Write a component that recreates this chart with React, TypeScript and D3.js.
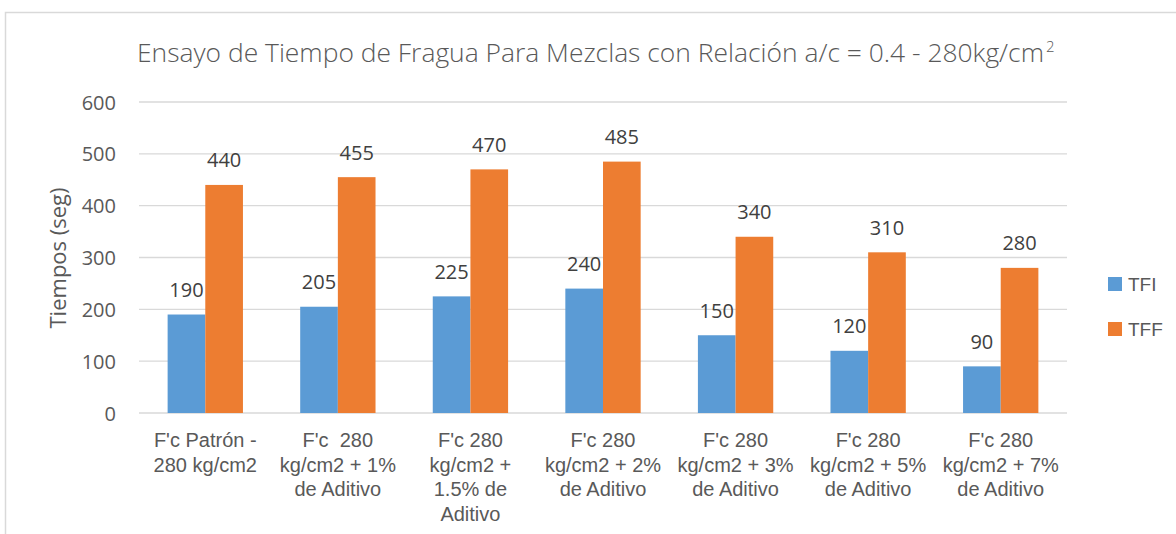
import React from "react";
import * as d3 from "d3";

const categories: string[][] = [
  ["F'c Patrón -", "280 kg/cm2"],
  ["F'c  280", "kg/cm2 + 1%", "de Aditivo"],
  ["F'c 280", "kg/cm2 +", "1.5% de", "Aditivo"],
  ["F'c 280", "kg/cm2 + 2%", "de Aditivo"],
  ["F'c 280", "kg/cm2 + 3%", "de Aditivo"],
  ["F'c 280", "kg/cm2 + 5%", "de Aditivo"],
  ["F'c 280", "kg/cm2 + 7%", "de Aditivo"],
];
const seriesNames = ["TFI", "TFF"];
const tfi = [190, 205, 225, 240, 150, 120, 90];
const tff = [440, 455, 470, 485, 340, 310, 280];
const yTicks = [0, 100, 200, 300, 400, 500, 600];
const colors = ["#5B9BD5", "#ED7D31"];

const W = 1176;
const H = 534;
const plotLeft = 139;
const plotRight = 1067;
const plotTop = 102;
const plotBottom = 413;

export default function App() {
  const idx = categories.map((_, i) => String(i));
  const x = d3.scaleBand<string>().domain(idx).range([plotLeft, plotRight]).padding(0);
  const xs = d3
    .scaleBand<string>()
    .domain(seriesNames)
    .range([0, x.bandwidth()])
    .paddingInner(0)
    .paddingOuter(0.76);
  const y = d3.scaleLinear().domain([0, 600]).range([plotBottom, plotTop]);
  const values = [tfi, tff];
  const textColor = "#595959";

  return (
    <svg
      width={W}
      height={H}
      style={{ position: "fixed", left: 0, top: 0, background: "#fff" }}
    >
      <rect x={5.5} y={12.5} width={1300} height={700} fill="#fff" stroke="#d9d9d9" strokeWidth={1.5} />
      <text
        x={137}
        y={62}
        fontFamily="'Open Sans', sans-serif"
        fontWeight={300}
        fontSize={26}
        fill={textColor}
        textLength={907}
        lengthAdjust="spacingAndGlyphs"
      >
        Ensayo de Tiempo de Fragua Para Mezclas con Relación a/c = 0.4 - 280kg/cm
      </text>
      <text x={1046} y={52} fontFamily="'Open Sans', sans-serif" fontWeight={300} fontSize={15} fill={textColor}>
        2
      </text>

      {yTicks.map((t) => (
        <g key={t}>
          <line x1={plotLeft} x2={plotRight} y1={y(t)} y2={y(t)} stroke="#d9d9d9" strokeWidth={1.3} />
          <text
            x={116}
            y={y(t) + 7.5}
            textAnchor="end"
            fontFamily="'Open Sans', sans-serif"
            fontSize={20}
            fill={textColor}
          >
            {t}
          </text>
        </g>
      ))}

      <text
        transform={`translate(66,258) rotate(-90)`}
        textAnchor="middle"
        fontFamily="'Open Sans', sans-serif"
        fontSize={22}
        fill={textColor}
      >
        Tiempos (seg)
      </text>

      {values.map((vals, s) =>
        vals.map((v, i) => {
          const bx = (x(String(i)) as number) + (xs(seriesNames[s]) as number);
          return (
            <g key={`${s}-${i}`}>
              <rect
                x={bx}
                y={y(v)}
                width={xs.bandwidth()}
                height={y(0) - y(v)}
                fill={colors[s]}
              />
              <text
                x={bx + xs.bandwidth() / 2}
                y={y(v) - 17.5}
                textAnchor="middle"
                fontFamily="'Open Sans', sans-serif"
                fontSize={20}
                fill="#404040"
              >
                {v}
              </text>
            </g>
          );
        })
      )}

      {categories.map((lines, i) => (
        <text
          key={i}
          textAnchor="middle"
          fontFamily="'Liberation Sans', Arial, sans-serif"
          fontSize={20}
          fill={textColor}
          style={{ whiteSpace: "pre" }}
        >
          {lines.map((l, j) => (
            <tspan key={j} x={(x(String(i)) as number) + x.bandwidth() / 2} y={447 + j * 24.7}>
              {l}
            </tspan>
          ))}
        </text>
      ))}

      {seriesNames.map((n, s) => (
        <g key={n}>
          <rect x={1108} y={277 + s * 45} width={14} height={14} fill={colors[s]} />
          <text
            x={1128}
            y={291 + s * 45}
            fontFamily="'Liberation Sans', Arial, sans-serif"
            fontSize={19}
            fill={textColor}
          >
            {n}
          </text>
        </g>
      ))}
    </svg>
  );
}
